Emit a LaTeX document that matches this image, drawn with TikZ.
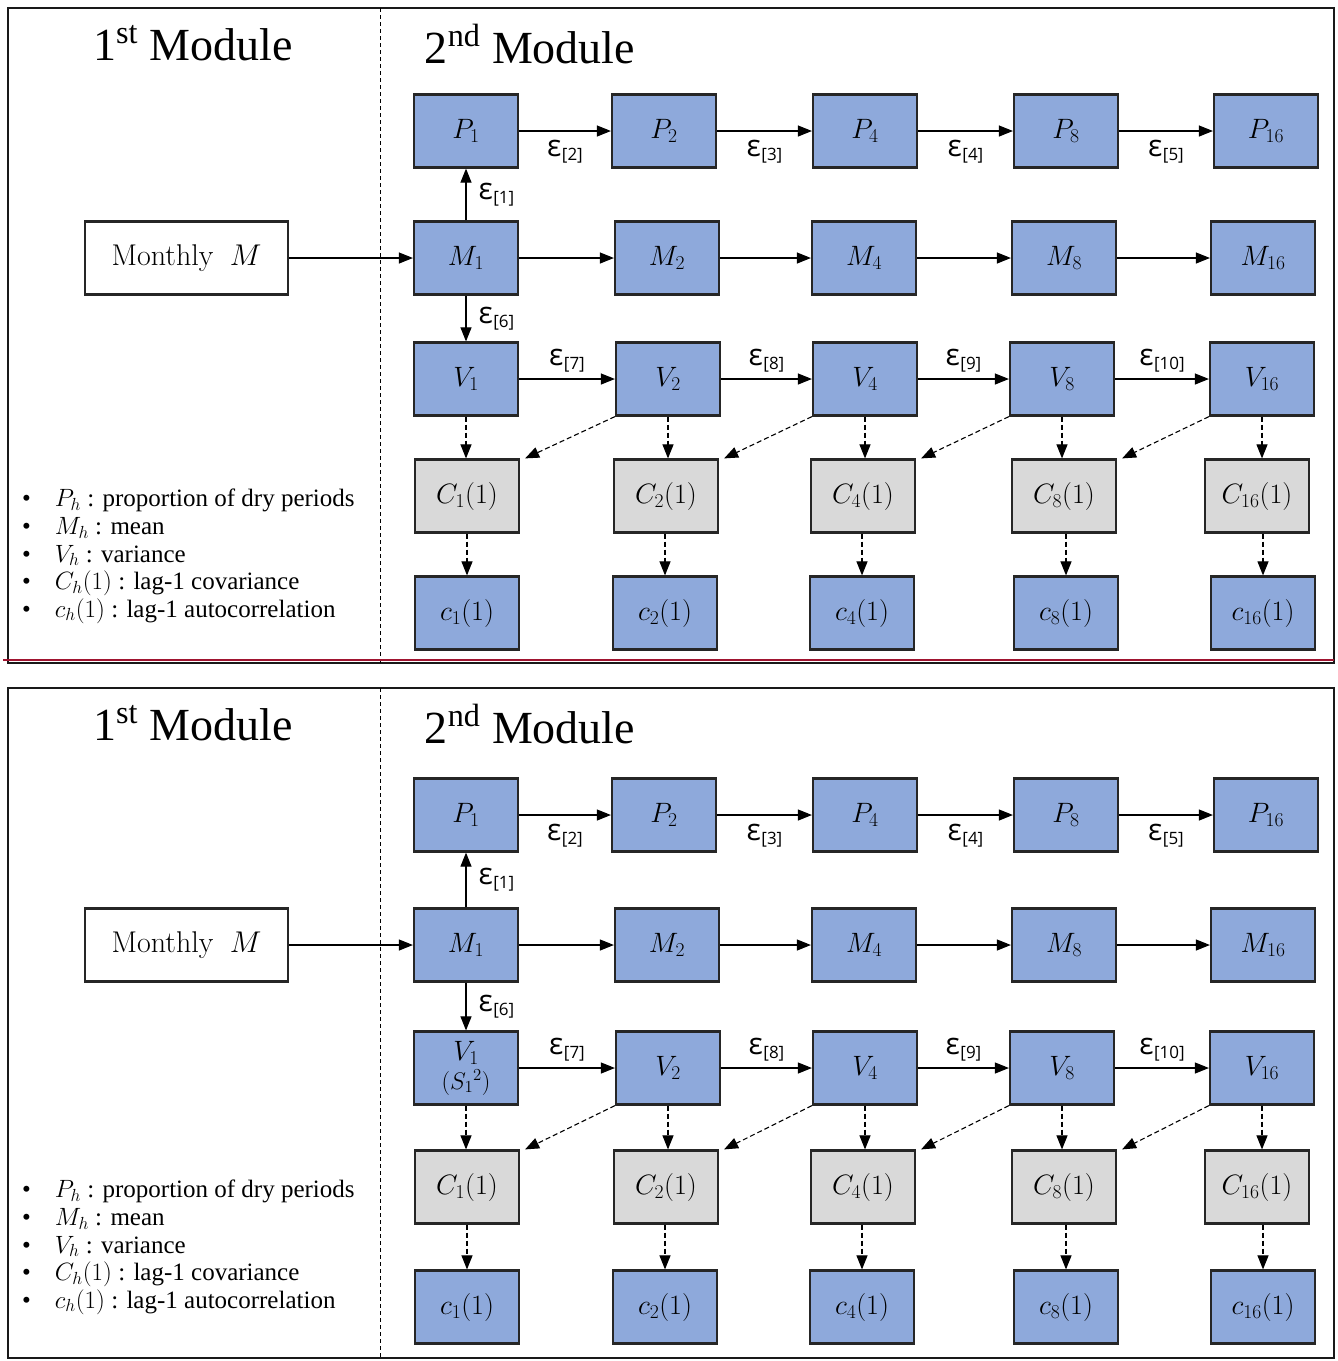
\RequirePackage{fix-cm}
\documentclass[tikz,border=0pt]{standalone}
\usepackage{fontspec}
\usetikzlibrary{arrows.meta}
\newfontfamily\timesfont{Liberation Serif}
\newfontfamily\epsfont{Open Sans}
\definecolor{boxblue}{RGB}{142,169,219}
\definecolor{boxgray}{RGB}{217,217,217}
\definecolor{sepred}{RGB}{160,20,48}

% epsilon label with bracketed index
\newcommand\epslab[1]{{\epsfont\fontsize{30}{30}\selectfont ε\kern0.5pt\raisebox{-4pt}{\fontsize{17}{17}\selectfont[#1]}}}

\tikzset{
  x=1pt, y=-1pt,
  frame/.style={draw=black!90, line width=2pt},
  divider/.style={draw=black, line width=0.9pt, dash pattern=on 4pt off 3pt},
  box/.style={draw=black!85, line width=2.2pt, fill=boxblue, minimum width=104pt,
    minimum height=73pt, inner sep=0pt, font=\fontsize{28}{29}\selectfont, align=center},
  gbox/.style={box, fill=boxgray},
  wbox/.style={box, fill=white, minimum width=203pt, font=\fontsize{30}{30}\selectfont},
  arr/.style={-{Triangle[length=14pt,width=11pt]}, line width=1.1pt},
  darr/.style={arr, dash pattern=on 5pt off 3pt},
  epsb/.style={below=7pt, inner sep=2pt},
  epsa/.style={above=4pt, inner sep=2pt},
  epsr/.style={right=10pt, inner sep=2pt},
  title/.style={font=\timesfont\fontsize{46}{46}\selectfont, inner sep=0pt},
}

% #1 prefix, #2 frame top, #3 frame bottom, #4..#8 row centres (P, M, V, C, c), #9 label of V1
\newcommand\modulepanel[9]{%
  \draw[frame] (8,#2) rectangle (1334,#3);
  \draw[divider] (380,#2) -- (380,#3);
  \node[title] (#1t1) at (193,#2+35) {1\textsuperscript{st} Module};
  \node[title] (#1t2) at (530,#2+36) {2\textsuperscript{nd} Module};
  \node[anchor=north west, inner sep=0pt, font=\timesfont\fontsize{25}{27.6}\selectfont, align=left]
    (#1leg) at (22,#7-7) {%
    •\hspace{24pt}$P_h$ : proportion of dry periods\\
    •\hspace{24pt}$M_h$ : mean\\
    •\hspace{24pt}$V_h$ : variance\\
    •\hspace{24pt}$C_h(1)$ : lag-1 covariance\\
    •\hspace{24pt}$c_h(1)$ : lag-1 autocorrelation};
  \node[wbox] (#1MM) at (186.5,#5) {Monthly\hspace{0.55em}$M$};
  \foreach \n/\x in {1/466,2/664,4/865,8/1066,16/1266}
    \node[box] (#1P\n) at (\x,#4) {$P_{\n}$};
  \foreach \n/\x in {1/466,2/667,4/864,8/1064,16/1263}
    \node[box] (#1M\n) at (\x,#5) {$M_{\n}$};
  \node[box] (#1V1) at (466,#6) {#9};
  \foreach \n/\x in {2/668,4/865,8/1062,16/1262}
    \node[box] (#1V\n) at (\x,#6) {$V_{\n}$};
  \foreach \n/\x in {1/467,2/666,4/863,8/1064,16/1257}
    \node[gbox] (#1C\n) at (\x,#7) {$C_{\n}(1)$};
  \foreach \n/\x in {1/467,2/665,4/862,8/1066,16/1263}
    \node[box] (#1c\n) at (\x,#8) {$c_{\n}(1)$};
  \draw[arr] (#1MM) -- (#1M1);
  \draw[arr] (#1M1) -- node[epsr] {\epslab{1}} (#1P1);
  \draw[arr] (#1M1) -- node[epsr] {\epslab{6}} (#1V1);
  \foreach \a/\b/\k in {1/2/2,2/4/3,4/8/4,8/16/5}
    \draw[arr] (#1P\a) -- node[epsb] {\epslab{\k}} (#1P\b);
  \foreach \a/\b in {1/2,2/4,4/8,8/16}
    \draw[arr] (#1M\a) -- (#1M\b);
  \foreach \a/\b/\k in {1/2/7,2/4/8,4/8/9,8/16/10}
    \draw[arr] (#1V\a) -- node[epsa] {\epslab{\k}} (#1V\b);
  \foreach \n in {1,2,4,8,16} {
    \draw[darr] (#1V\n.south) -- (#1V\n.south |- #1C\n.north);
    \draw[darr] (#1c\n.north |- #1C\n.south) -- (#1c\n.north);
  }
  \foreach \a/\b in {1/2,2/4,4/8,8/16}
    \draw[darr] (#1V\b.south west) -- ([xshift=5pt]#1C\a.north east);
}

\begin{document}
\begin{tikzpicture}
  \useasboundingbox (0,0) rectangle (1338,1361);
  \modulepanel{a}{8}{663}{131}{258}{379}{496}{613}{$V_1$}
  \draw[sepred, line width=2pt] (3,660) -- (1334,660);
  \modulepanel{b}{688}{1358}{815}{945}{1068}{1187}{1307}{$V_1$\\{\fontsize{24}{24}\selectfont$(S_1{}^2)$}}
\end{tikzpicture}
\end{document}
